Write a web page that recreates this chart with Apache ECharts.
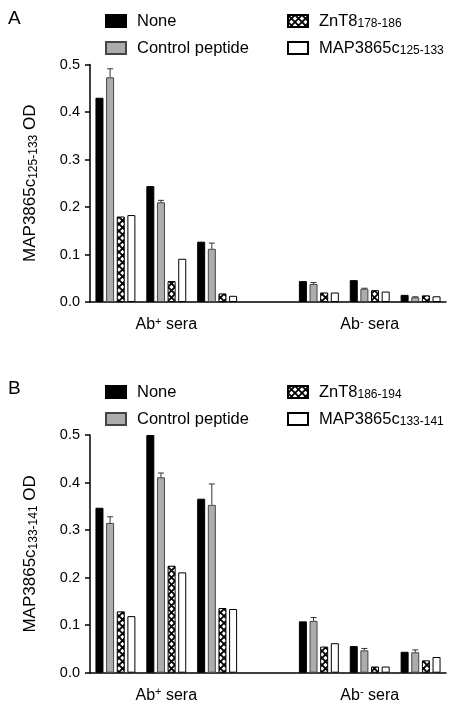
<!DOCTYPE html>
<html><head><meta charset="utf-8">
<script src="https://cdn.jsdelivr.net/npm/echarts@6/dist/echarts.min.js"></script>
<style>html,body{margin:0;padding:0;background:#fff}#c{width:454px;height:706px}</style>
</head><body><div id="c"></div>
<script>
// categories: 3 Ab+ groups, a spacer, 3 Ab- groups
const categories = ['g1', 'Ab+ sera', 'g3', 'gap', 'g4', 'Ab- sera', 'g6'];
const yTicks = [0, 0.1, 0.2, 0.3, 0.4, 0.5];

// Panel A
const A_none    = [0.430, 0.244, 0.127, null, 0.044, 0.046, 0.015];
const A_ctrl    = [0.473, 0.210, 0.112, null, 0.038, 0.028, 0.010];
const A_ctrlErr = [0.018, 0.004, 0.012, null, 0.003, 0.001, 0.001];
const A_znt8    = [0.180, 0.044, 0.018, null, 0.020, 0.025, 0.014];
const A_map     = [0.183, 0.091, 0.013, null, 0.020, 0.022, 0.012];

// Panel B
const B_none    = [0.347, 0.500, 0.366, null, 0.108, 0.056, 0.044];
const B_ctrl    = [0.315, 0.411, 0.353, null, 0.109, 0.047, 0.043];
const B_ctrlErr = [0.013, 0.009, 0.044, null, 0.007, 0.004, 0.005];
const B_znt8    = [0.129, 0.225, 0.136, null, 0.055, 0.013, 0.026];
const B_map     = [0.119, 0.211, 0.134, null, 0.062, 0.013, 0.033];

const FONT = "'Liberation Sans', Arial, sans-serif";

// crosshatch pattern
const T = 7;
const pc = document.createElement('canvas');
pc.width = T; pc.height = T;
const pctx = pc.getContext('2d');
pctx.fillStyle = '#fff'; pctx.fillRect(0, 0, T, T);
pctx.strokeStyle = '#000'; pctx.lineWidth = 1.8;
pctx.beginPath();
pctx.moveTo(-1, -1); pctx.lineTo(T + 1, T + 1);
pctx.moveTo(T + 1, -1); pctx.lineTo(-1, T + 1);
pctx.stroke();
const hatch = { image: pc, repeat: 'repeat' };

const BW = 8, GAP = 0.33;
const styles = {
  none: { color: '#000', borderColor: '#000', borderWidth: 1 },
  ctrl: { color: '#adadad', borderColor: '#444', borderWidth: 1 },
  znt8: { color: hatch, borderColor: '#000', borderWidth: 1 },
  map:  { color: '#fff', borderColor: '#000', borderWidth: 1 }
};

function bar(name, data, style, gi) {
  return { type: 'bar', name, data, xAxisIndex: gi, yAxisIndex: gi, barWidth: BW, barGap: (GAP * 100) + '%',
    itemStyle: style, emphasis: { disabled: true }, animation: false };
}
function errSeries(vals, errs, gi) {
  const data = [];
  vals.forEach((v, i) => { if (v != null) data.push([i, v, errs[i]]); });
  const offset = -(4 * BW + 3 * BW * GAP) / 2 + BW + BW * GAP + BW / 2;
  return { type: 'custom', xAxisIndex: gi, yAxisIndex: gi, data, z: 5, animation: false,
    encode: { x: 0, y: 1 },
    renderItem: function (params, api) {
      const p0 = api.coord([api.value(0), api.value(1)]);
      const p1 = api.coord([api.value(0), api.value(1) + api.value(2)]);
      const x = p0[0] + offset;
      return { type: 'group', children: [
        { type: 'line', shape: { x1: x, y1: p0[1], x2: x, y2: p1[1] }, style: { stroke: '#333', lineWidth: 1 } },
        { type: 'line', shape: { x1: x - 3, y1: p1[1], x2: x + 3, y2: p1[1] }, style: { stroke: '#333', lineWidth: 1 } }
      ] };
    } };
}

const rich = {
  sub: { fontSize: 12, fontFamily: FONT, color: '#000', verticalAlign: 'bottom', padding: [6, 0, 0, 0] },
  sup: { fontSize: 11, fontFamily: FONT, color: '#000', verticalAlign: 'top', padding: [0, 0, 6, 0] }
};
const legendNames = {
  'None': 'None', 'Control peptide': 'Control peptide',
  'ZnT8 178-186': 'ZnT8{sub|178-186}', 'MAP3865c 125-133': 'MAP3865c{sub|125-133}',
  'ZnT8 186-194': 'ZnT8{sub|186-194}', 'MAP3865c 133-141': 'MAP3865c{sub|133-141}'
};
function legend(left, top, data) {
  return { left, top, padding: 0, orient: 'vertical', itemWidth: 20, itemHeight: 12, itemGap: 9, icon: 'rect',
    data, selectedMode: false,
    formatter: n => legendNames[n],
    textStyle: { fontSize: 16.5, fontFamily: FONT, color: '#000', padding: [0, 0, 0, 6], lineHeight: 18, rich } };
}

function yAxis(gi, sub) {
  return { type: 'value', gridIndex: gi, min: 0, max: 0.5, interval: 0.1,
    name: 'MAP3865c{sub|' + sub + '} OD', nameLocation: 'middle', nameGap: 50, nameRotate: 90,
    nameTextStyle: { fontSize: 17, fontFamily: FONT, color: '#000', rich: { sub: { fontSize: 12, fontFamily: FONT, color: '#000', padding: [7, 0, 0, 0] } } },
    axisLine: { show: true, lineStyle: { color: '#000', width: 1.5 } },
    axisTick: { show: true, length: 5, lineStyle: { color: '#000', width: 1.5 } },
    splitLine: { show: false },
    axisLabel: { fontSize: 14.5, fontFamily: FONT, color: '#000', margin: 10, formatter: v => v.toFixed(1) } };
}
function xAxis(gi) {
  return { type: 'category', gridIndex: gi, data: categories,
    axisLine: { lineStyle: { color: '#000', width: 1.5 } }, axisTick: { show: false },
    axisLabel: { interval: 0, margin: 14, fontSize: 16, fontFamily: FONT, color: '#000',
      formatter: v => v === 'Ab+ sera' ? 'Ab{sup|+} sera' : v === 'Ab- sera' ? 'Ab{sup|-} sera' : '',
      rich } };
}

const chart = echarts.init(document.getElementById('c'), null, { renderer: 'canvas' });
chart.setOption({
  backgroundColor: '#fff',
  animation: false,
  title: [
    { text: 'A', left: 3, top: 4, textStyle: { fontSize: 19, fontWeight: 'normal', fontFamily: FONT, color: '#000' } },
    { text: 'B', left: 3, top: 374, textStyle: { fontSize: 19, fontWeight: 'normal', fontFamily: FONT, color: '#000' } }
  ],
  legend: [
    legend(105, 12, ['None', 'Control peptide']),
    legend(287, 12, ['ZnT8 178-186', 'MAP3865c 125-133']),
    legend(105, 383, ['None', 'Control peptide']),
    legend(287, 383, ['ZnT8 186-194', 'MAP3865c 133-141'])
  ],
  grid: [
    { left: 90, top: 64.5, width: 356, height: 237.5 },
    { left: 90, top: 435, width: 356, height: 237.7 }
  ],
  xAxis: [xAxis(0), xAxis(1)],
  yAxis: [yAxis(0, '125-133'), yAxis(1, '133-141')],
  series: [
    bar('None', A_none, styles.none, 0),
    bar('Control peptide', A_ctrl, styles.ctrl, 0),
    bar('ZnT8 178-186', A_znt8, styles.znt8, 0),
    bar('MAP3865c 125-133', A_map, styles.map, 0),
    errSeries(A_ctrl, A_ctrlErr, 0),
    bar('None', B_none, styles.none, 1),
    bar('Control peptide', B_ctrl, styles.ctrl, 1),
    bar('ZnT8 186-194', B_znt8, styles.znt8, 1),
    bar('MAP3865c 133-141', B_map, styles.map, 1),
    errSeries(B_ctrl, B_ctrlErr, 1)
  ]
});
</script></body></html>
